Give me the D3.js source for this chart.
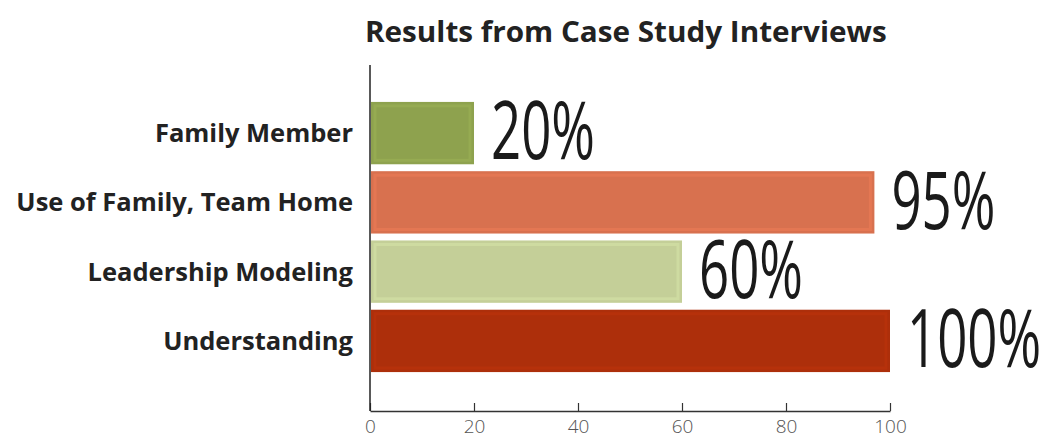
<!DOCTYPE html>
<html><head><meta charset="utf-8">
<script src="https://cdn.jsdelivr.net/npm/d3@7"></script>
<style>body{margin:0;background:#fff}</style>
</head><body>
<svg id="c" width="1049" height="438"></svg>
<script>
const categories = ["Family Member", "Use of Family, Team Home", "Leadership Modeling", "Understanding"];
const values = [20, 97, 60, 100];
const valueLabels = ["20%", "95%", "60%", "100%"];
const ticks = [0, 20, 40, 60, 80, 100];
const colors = ["#8ea24e", "#d8714f", "#c4cf98", "#ad2f0b"];
const title = "Results from Case Study Interviews";

const svg = d3.select("#c");
const x = d3.scaleLinear().domain([0, 100]).range([370, 890]);
const y = d3.scaleBand().domain(categories).range([95, 379]).paddingInner(0.1).paddingOuter(0.1);

// title
svg.append("text").attr("x", 365).attr("y", 42)
  .attr("font-family", "Open Sans").attr("font-weight", 700).attr("font-size", 29)
  .attr("fill", "#222").text(title)
  .each(function(){ const w=this.getComputedTextLength(); d3.select(this).attr("transform",`translate(365,0) scale(${522/w},1) translate(-365,0)`); });

// bars
const g = svg.append("g");
g.selectAll("rect.bar").data(categories).join("rect")
  .attr("class","bar")
  .attr("x", x(0)+1).attr("y", d => y(d))
  .attr("width", (d,i) => x(values[i]) - x(0) - 1)
  .attr("height", y.bandwidth())
  .attr("fill", (d,i) => colors[i]);
g.selectAll("rect.inner").data(categories).join("rect")
  .attr("class","inner")
  .attr("x", x(0)+5).attr("y", d => y(d)+4)
  .attr("width", (d,i) => x(values[i]) - x(0) - 9)
  .attr("height", y.bandwidth()-8)
  .attr("fill", "none")
  .attr("stroke", (d,i) => d3.color(colors[i]).brighter(0.25))
  .attr("stroke-width", 3).attr("opacity", 0.6);

// value labels
g.selectAll("text.val").data(categories).join("text")
  .attr("class","val")
  .attr("font-family","Open Sans").attr("font-weight",400).attr("font-size",80)
  .attr("fill","#1a1a1a")
  .text((d,i)=>valueLabels[i])
  .attr("transform",(d,i)=>`translate(${x(values[i])+17},${y(d)+y.bandwidth()-5}) scale(0.66,1)`);

// category labels
g.selectAll("text.cat").data(categories).join("text")
  .attr("class","cat")
  .attr("font-family","Open Sans").attr("font-weight",700).attr("font-size",25.5)
  .attr("fill","#222").attr("text-anchor","end")
  .attr("x",353).attr("y",d=>y(d)+y.bandwidth()/2+9)
  .text(d=>d);

// x axis
const xAxis = d3.axisBottom(x).tickValues(ticks).tickSize(-8).tickSizeOuter(0).tickPadding(9);
const ax = svg.append("g").attr("transform","translate(0,411)").call(xAxis);
ax.select(".domain").attr("stroke","#333").attr("stroke-width",1.5);
ax.selectAll(".tick line").attr("stroke","#333").attr("stroke-width",1.2);
ax.selectAll(".tick text").attr("font-family","Open Sans").attr("font-weight",300)
  .attr("font-size",19).attr("fill","#555");

// y axis line
svg.append("line").attr("x1",370).attr("x2",370).attr("y1",65).attr("y2",411)
  .attr("stroke","#222").attr("stroke-width",1.5);
</script>
</body></html>
